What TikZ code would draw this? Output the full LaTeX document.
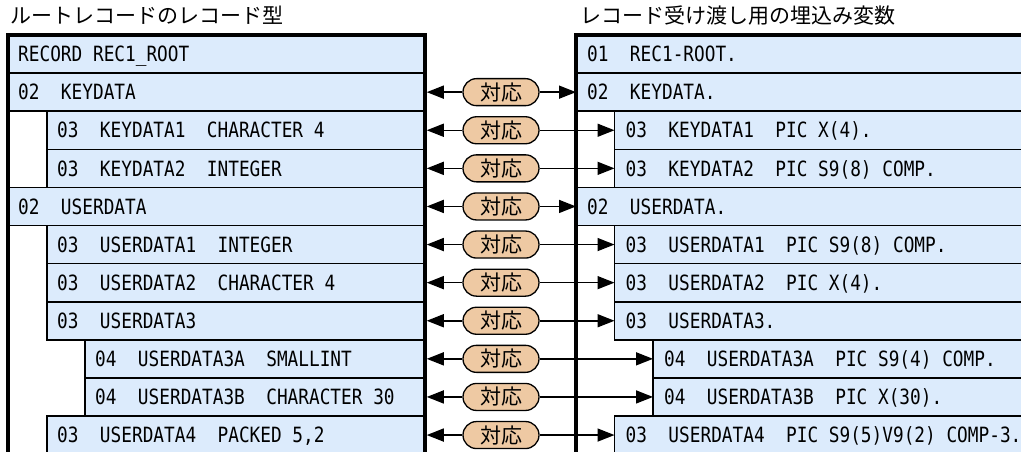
\documentclass[tikz,border=0pt]{standalone}
\usepackage{fontspec}
\usetikzlibrary{arrows.meta,calc}
\newfontfamily\jpfont{Noto Sans CJK JP}
\newfontfamily\cobolfont[FakeStretch=0.846]{DejaVu Sans Mono}
\definecolor{rowfill}{RGB}{220,235,252}
\definecolor{pillfill}{RGB}{238,201,163}
\begin{document}
\begin{tikzpicture}[x=1pt,y=-1pt,
  rowbox/.style={draw=black, line width=1.6pt, fill=rowfill, inner sep=0pt, outer sep=0pt, minimum height=38.1pt, anchor=north west},
  rowtext/.style={anchor=base west, inner sep=0pt, font=\cobolfont\fontsize{21}{21}\selectfont},
  titletext/.style={anchor=base west, inner sep=0pt, font=\jpfont\fontsize{21}{21}\selectfont},
  pill/.style={draw=black, line width=1.3pt, fill=pillfill, rounded corners=13.5pt, minimum width=76pt, minimum height=27pt, inner sep=0pt, font=\jpfont\fontsize{21}{21}\selectfont},
  conn/.style={line width=1.5pt, -{Triangle[length=17pt,width=13pt]}},
  outer/.style={line width=3.5pt, line join=miter},
]
\useasboundingbox (0,0) rectangle (1021,452);
\clip (0,0) rectangle (1021,452);

\node[titletext] (ltitle) at (10,24) {ルートレコードのレコード型};
\node[titletext] (rtitle) at (580,24) {レコード受け渡し用の埋込み変数};

\foreach \i/\lv/\lt/\rt in {
 0/0/{RECORD REC1\_ROOT}/{01~~REC1-ROOT.},
 1/0/{02~~KEYDATA}/{02~~KEYDATA.},
 2/1/{03~~KEYDATA1~~CHARACTER 4}/{03~~KEYDATA1~~PIC X(4).},
 3/1/{03~~KEYDATA2~~INTEGER}/{03~~KEYDATA2~~PIC S9(8) COMP.},
 4/0/{02~~USERDATA}/{02~~USERDATA.},
 5/1/{03~~USERDATA1~~INTEGER}/{03~~USERDATA1~~PIC S9(8) COMP.},
 6/1/{03~~USERDATA2~~CHARACTER 4}/{03~~USERDATA2~~PIC X(4).},
 7/1/{03~~USERDATA3}/{03~~USERDATA3.},
 8/2/{04~~USERDATA3A~~SMALLINT}/{04~~USERDATA3A~~PIC S9(4) COMP.},
 9/2/{04~~USERDATA3B~~CHARACTER 30}/{04~~USERDATA3B~~PIC X(30).},
 10/1/{03~~USERDATA4~~PACKED 5,2}/{03~~USERDATA4~~PIC S9(5)V9(2) COMP-3.}
}{
  \pgfmathsetmacro{\top}{35+38.1*\i}
  \pgfmathsetmacro{\lx}{{8,47,85}[\lv]}
  \pgfmathsetmacro{\rx}{{576,614.5,653}[\lv]}
  \node[rowbox, minimum width={425-\lx}] (L\i) at (\lx,\top) {};
  \node[rowbox, minimum width={1060-\rx}] (R\i) at (\rx,\top) {};
  \node[rowtext] (LT\i) at ($(L\i.west)+(10,7.7)$) {\lt};
  \node[rowtext] (RT\i) at ($(R\i.west)+(11,7.7)$) {\rt};
}

\draw[outer] (8,470) -- (8,35) -- (425,35) -- (425,470);
\draw[outer] (576,470) -- (576,35) -- (1060,35);

\foreach \i in {1,...,10}{
  \node[pill] (P\i) at (L\i.center -| 501,0) {対応};
  \draw[conn] (P\i.west) -- ([xshift=1.75pt]L\i.east);
  \draw[conn] (P\i.east) -- (R\i.west);
}
\end{tikzpicture}
\end{document}
